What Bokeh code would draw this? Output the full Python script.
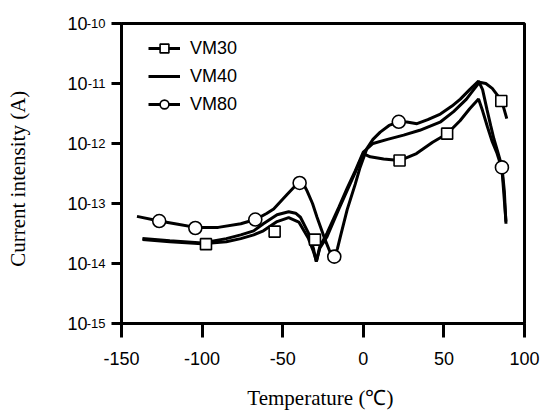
from bokeh.plotting import figure
from bokeh.models import FixedTicker, CustomJSTickFormatter, Legend, LegendItem, LogAxis
from bokeh.embed import file_html
from bokeh.resources import INLINE

# ---------------- data ----------------
vm30_t = [-137, -120, -100, -85, -76, -68, -62, -53.5, -46.3, -40, -34, -31, -29, -27, -22.5,
          -15, -10, -5, 0, 4.3, 12.6, 22.5, 33, 43, 52, 60, 66, 71.5, 74, 77, 80, 83, 86, 88.5]
vm30_i = [2.5e-14, 2.3e-14, 2.14e-14, 2.3e-14, 2.6e-14, 3.0e-14, 3.5e-14, 5.0e-14, 5.8e-14, 4.9e-14,
          2.6e-14, 1.6e-14, 1.1e-14, 1.8e-14, 2.8e-14, 8.3e-14, 1.66e-13, 3.3e-13, 6.8e-13, 6.0e-13,
          5.5e-13, 5.2e-13, 6.8e-13, 1.05e-12, 1.45e-12, 2.4e-12, 3.8e-12, 5.5e-12, 3.5e-12, 1.9e-12,
          1.07e-12, 6.8e-13, 3.8e-13, 5.0e-14]
vm30_mark_t = [-97.6, -55, -30, 22.5, 52, 85.6]
vm30_mark_i = [2.1e-14, 3.4e-14, 2.5e-14, 5.2e-13, 1.46e-12, 5.1e-12]

vm40_t = [-137, -120, -100, -85, -76, -68, -62, -53.5, -46.3, -42, -39, -34, -31, -29.2, -27, -22.5,
          -15, -10, -5, 0, 6, 15, 25, 35, 48, 56, 64, 68, 72, 76, 80, 84, 86.5, 89]
vm40_i = [2.6e-14, 2.4e-14, 2.2e-14, 2.6e-14, 3.0e-14, 3.5e-14, 4.6e-14, 6.5e-14, 7.3e-14, 6.9e-14,
          5.9e-14, 3.2e-14, 1.8e-14, 1.07e-14, 1.9e-14, 3.2e-14, 8.9e-14, 1.8e-13, 3.5e-13, 7.2e-13,
          1.0e-12, 1.17e-12, 1.38e-12, 1.66e-12, 2.3e-12, 3.4e-12, 5.5e-12, 7.6e-12, 1.05e-11, 1.0e-11,
          8.3e-12, 6.0e-12, 4.5e-12, 2.6e-12]

vm80_t = [-140.4, -126.6, -115, -104, -90, -76, -67, -60, -55.6, -47.3, -42, -39.5, -37, -34.9, -31.5,
          -28.7, -23.6, -20, -18, -16, -14.3, -10, -5, -2, 2.3, 6, 10.5, 16, 22, 27, 33.3, 40, 47.8,
          55, 60.2, 66, 71.5, 74, 76.7, 79, 81, 83.5, 86, 87.5, 88.5]
vm80_i = [6.1e-14, 5.1e-14, 4.5e-14, 4.0e-14, 4.0e-14, 4.6e-14, 5.4e-14, 6.8e-14, 8.1e-14, 1.41e-13,
          2.0e-13, 2.19e-13, 2.09e-13, 1.62e-13, 1.0e-13, 5.9e-14, 2.45e-14, 1.41e-14, 1.32e-14,
          1.78e-14, 2.75e-14, 7.9e-14, 2.1e-13, 4.0e-13, 8.3e-13, 1.17e-12, 1.55e-12, 2.0e-12, 2.29e-12,
          2.29e-12, 2.14e-12, 2.5e-12, 3.1e-12, 4.2e-12, 5.5e-12, 7.9e-12, 1.1e-11, 7.9e-12, 3.7e-12,
          2.0e-12, 1.2e-12, 7.1e-13, 4.1e-13, 1.6e-13, 4.6e-14]
vm80_mark_t = [-126.6, -104.2, -67, -39.5, -18, 22, 86]
vm80_mark_i = [5.1e-14, 3.9e-14, 5.4e-14, 2.2e-13, 1.3e-14, 2.3e-12, 4.0e-13]

xticks = [-150, -100, -50, 0, 50, 100]
xtick_labels = ["-150", "-100", "-50", "0", "50", "100"]
yticks = [1e-15, 1e-14, 1e-13, 1e-12, 1e-11, 1e-10]
ytick_base = "10"
ytick_exps = ["-15", "-14", "-13", "-12", "-11", "-10"]
series_names = ["VM30", "VM40", "VM80"]

# ---------------- figure ----------------
p = figure(width=545, height=412, output_backend="svg", toolbar_location=None,
           x_range=(-150, 100), y_range=(1e-15, 1e-10), y_axis_type="log",
           min_border_left=121, min_border_top=23, min_border_right=21, min_border_bottom=84)
p.background_fill_color = "white"
p.border_fill_color = "white"
p.outline_line_color = "black"
p.outline_line_width = 3
p.grid.visible = False

tick_font = "Liberation Sans"
p.xaxis.ticker = FixedTicker(ticks=xticks, minor_ticks=[])
p.xaxis.formatter = CustomJSTickFormatter(args=dict(tvals=xticks, tlabels=xtick_labels), code="""
for (let k = 0; k < tvals.length; k++) { if (Math.abs(tick - tvals[k]) < 1e-6) return tlabels[k]; }
return '';
""")

ylog_fmt = """
for (let k = 0; k < tvals.length; k++) { if (Math.abs(Math.log10(tick) - Math.log10(tvals[k])) < 0.01) return tlabels[k]; }
return '';
"""
# inner axis: line, ticks and the exponents (raised)
p.yaxis.ticker = FixedTicker(ticks=yticks, minor_ticks=[])
p.yaxis.formatter = CustomJSTickFormatter(args=dict(tvals=yticks, tlabels=ytick_exps), code=ylog_fmt)

for ax in (p.xaxis[0], p.yaxis[0]):
    ax.axis_line_width = 3
    ax.axis_line_color = "black"
    ax.major_tick_line_width = 3
    ax.major_tick_line_color = "black"
    ax.minor_tick_line_color = None
    ax.major_tick_in = 0
    ax.major_label_text_font = tick_font
    ax.major_label_text_font_size = "18px"
    ax.major_label_text_color = "black"
    ax.axis_label_text_font = "Liberation Serif"
    ax.axis_label_text_font_style = "normal"
    ax.axis_label_text_font_size = "21px"
    ax.axis_label_text_color = "black"

p.xaxis.major_tick_out = 14
p.xaxis.major_label_standoff = 14
p.xaxis.axis_label = "Temperature  (\u2103)"
p.xaxis.axis_label_standoff = 18

p.yaxis.major_tick_out = 10
p.yaxis.major_label_standoff = 6
p.yaxis.major_label_text_font_size = "13px"
p.yaxis.major_label_text_baseline = "alphabetic"

# outer axis: the "10" bases and the axis title
yb = LogAxis(ticker=FixedTicker(ticks=yticks, minor_ticks=[]),
             formatter=CustomJSTickFormatter(args=dict(tvals=yticks, tlabels=[ytick_base] * len(yticks)),
                                             code=ylog_fmt))
yb.axis_line_color = None
yb.major_tick_line_color = None
yb.minor_tick_line_color = None
yb.major_tick_in = 0
yb.major_tick_out = 0
yb.major_label_standoff = -4
yb.major_label_text_font = tick_font
yb.major_label_text_font_size = "18px"
yb.major_label_text_color = "black"
yb.axis_label = "Current  intensity  (A)"
yb.axis_label_text_font = "Liberation Serif"
yb.axis_label_text_font_style = "normal"
yb.axis_label_text_font_size = "21px"
yb.axis_label_text_color = "black"
yb.axis_label_standoff = 34
p.add_layout(yb, "left")

lw = 3
l30 = p.line(vm30_t, vm30_i, line_color="black", line_width=lw)
l40 = p.line(vm40_t, vm40_i, line_color="black", line_width=lw)
l80 = p.line(vm80_t, vm80_i, line_color="black", line_width=lw)
m30 = p.scatter(vm30_mark_t, vm30_mark_i, marker="square", size=11, fill_color="white",
                line_color="black", line_width=1.6)
m80 = p.scatter(vm80_mark_t, vm80_mark_i, marker="circle", size=13, fill_color="white",
                line_color="black", line_width=1.6)

legend = Legend(items=[LegendItem(label=series_names[0], renderers=[l30, m30]),
                       LegendItem(label=series_names[1], renderers=[l40]),
                       LegendItem(label=series_names[2], renderers=[l80, m80])],
                location=(27, 208), orientation="vertical")
legend.background_fill_alpha = 0
legend.border_line_color = None
legend.label_text_font = tick_font
legend.label_text_font_size = "18px"
legend.label_text_color = "black"
legend.glyph_width = 32
legend.glyph_height = 22
legend.label_height = 22
legend.spacing = 6
legend.padding = 0
legend.margin = 0
legend.label_standoff = 10
p.add_layout(legend, "center")

open("out.html", "w").write(file_html(p, INLINE))
